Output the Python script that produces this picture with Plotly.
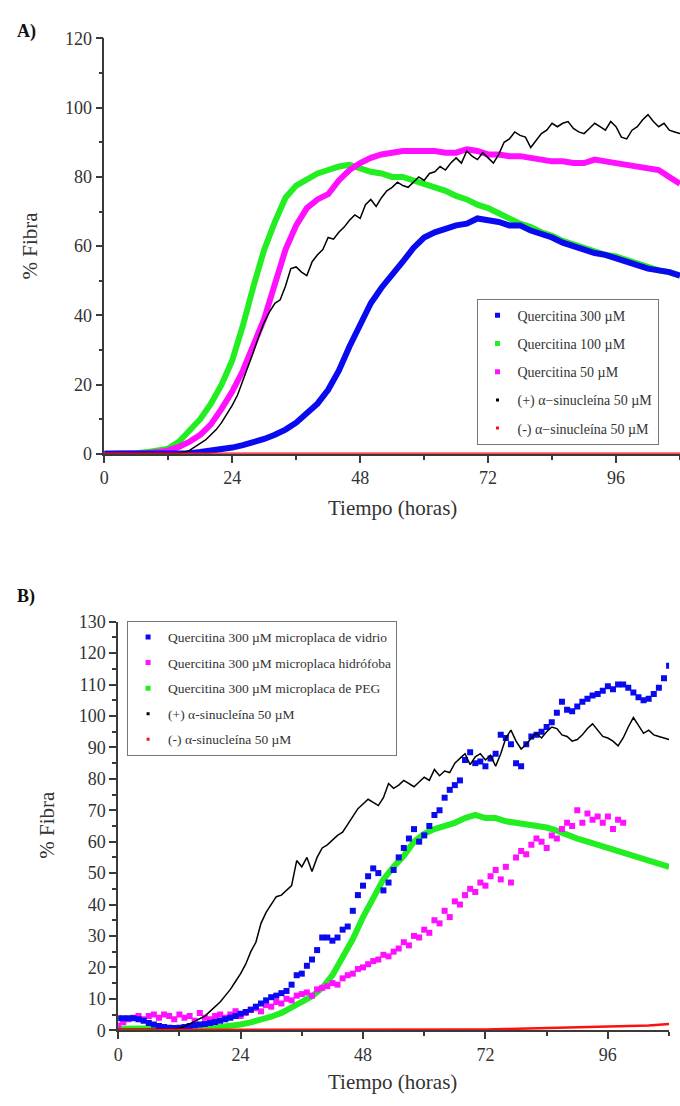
import plotly.graph_objects as go

# ---------------- Panel A data ----------------
tA2 = list(range(0, 109, 2))
tA1 = list(range(0, 109, 1))

q300_A = [0, 0, 0, 0, 0, 0, 0, 0, 0.2, 0.5, 0.8, 1.2, 1.8, 2.5, 3.3, 4.3, 5.5, 7, 9, 11.5,
          14.5, 18.5, 24, 31, 37.5, 43.5, 48, 51.5, 55.5, 59.5, 62.5, 64, 65, 66, 66.5, 68,
          67.5, 67, 66, 66, 64.5, 63.5, 62.5, 61, 60, 59, 58, 57.5, 56.5, 55.5, 54.5, 53.5,
          53, 52.5, 51.5]
q100_A = [0, 0, 0, 0.2, 0.5, 1, 1.5, 3.5, 7, 10, 14.5, 20, 27, 37, 48.5, 59, 67, 74, 77.5,
          79.5, 81, 82, 83, 83.5, 82.5, 81.5, 81, 80, 80, 79, 78, 77, 76, 74.5, 73.5, 72, 71,
          69.5, 68, 66.5, 65.5, 64, 63, 61.5, 60.5, 59.5, 58.5, 57.5, 57, 56, 55, 54, 53,
          52.5, 51.5]
q50_A = [0, 0, 0, 0, 0.2, 0.5, 1, 2, 3.5, 5.5, 8.5, 13, 18, 24, 31, 39, 49, 59, 66, 71,
         73.5, 75, 79, 82, 84, 85.5, 86.5, 87, 87.5, 87.5, 87.5, 87.5, 87, 87, 88, 87.5,
         86.5, 86.5, 86, 86, 85.5, 85, 84.5, 84.5, 84, 84, 85, 84.5, 84, 83.5, 83, 82.5,
         82, 80, 78]
pos_A = [0, 0, 0, 0, 0, 0, 0, 0, 0, 0, 0, 0, 0, 0, 0.2, 0.5, 1, 2, 3, 4,
         5.5, 7, 9, 11.5, 14, 17, 21, 25, 29.5, 34, 38, 41, 43.5, 44.5, 48.5, 53.5, 54, 52.5, 51.5, 55.5,
         57.5, 59, 62.5, 62, 64, 65.5, 67.5, 69, 68, 72, 73.5, 71.5, 74, 76, 77, 78.5, 77.5, 77, 78.5, 80,
         79, 81, 81.5, 83, 82, 84, 85.5, 84, 87.5, 86, 85, 87, 85.5, 84, 86.5, 90, 91, 93, 92, 91.5,
         88.5, 90.5, 92.5, 93.5, 95.5, 94.5, 95.5, 96, 94, 93, 92.5, 94, 95.5, 94.5, 93.5, 96, 94.5, 91.5, 91, 93.5,
         94.5, 96.5, 98, 96, 94.5, 95.5, 93.5, 93, 92.5]
negA_t = [0, 108]
neg_A = [0, 0]

# ---------------- Panel B data ----------------
tB1 = list(range(0, 109, 1))
tB2 = list(range(0, 109, 2))
tB_mag = list(range(0, 100, 1))
tB_red = [0, 20, 40, 60, 68, 72, 76, 80, 84, 88, 92, 96, 100, 104, 108]

vid_B = [3.8, 3.8, 3.8, 3.8, 3.5, 3, 2.3, 1.8, 1.3, 1, 0.8, 0.7, 0.8, 1, 1.3, 1.6, 1.8, 2, 2.3, 2.6,
         3, 3.5, 4, 4.5, 5.2, 5.8, 6.5, 7.5, 8.5, 9.5, 10.5, 11, 11.8, 12.5, 14.5, 17.5, 18, 20.5, 22.5, 25.5,
         29.5, 29.5, 28.5, 29.5, 32, 33, 38, 43, 46, 49, 51.5, 50, 44.5, 47, 51, 55, 58, 61, 64, 60,
         62, 65, 68.5, 70, 74, 76.5, 78, 79.5, 86, 88.5, 85, 85.5, 84, 86.5, 88, 94, 93, 91, 85, 84,
         91, 93.5, 94, 95, 96.5, 98, 101, 104.5, 102, 101.5, 103, 104.5, 105.5, 106.5, 107, 108, 109.5, 108.5, 110, 110,
         109, 107.5, 106, 105, 105.5, 107, 109, 112, 116]
hid_B = [1.5, 2.5, 3.5, 4, 4.5, 3.5, 4.5, 5, 4, 5, 4.5, 3.5, 5, 4, 4.5, 3, 5.5, 4, 3.5, 4.5,
         5, 4, 5, 6, 4.5, 5.5, 6.5, 7, 6, 8, 7.5, 9, 8.5, 10, 9.5, 11, 11.5, 12, 11, 13,
         13.5, 14, 15, 14.5, 16.5, 17.5, 18, 19.5, 20, 21, 22, 22.5, 24, 23.5, 25, 26, 28, 27, 30, 29.5,
         32, 31, 35, 34, 38, 36, 41, 40, 43, 45, 44, 47, 46, 49, 51, 48, 52, 47, 55, 57,
         56, 59, 61, 60, 58, 62, 61, 64, 66, 65, 70, 66, 69, 67, 68, 66, 68, 64, 67, 66]
peg_B = [0.5, 0.5, 0.5, 0.5, 0.5, 0.5, 0.5, 0.5, 0.6, 0.8, 1, 1.3, 1.8, 2.5, 3.3, 4.3, 5.5, 7, 9, 10.8,
         13.5, 17.5, 23, 29, 36, 42, 48, 52, 55.5, 60, 62.5, 64, 65, 66, 67.5, 68.5, 67.5, 67.5, 66.5, 66,
         65.5, 65, 64.5, 63.5, 62, 61, 60, 59, 58, 57, 56, 55, 54, 53, 52]
pos_B = [0.3, 0.3, 0.3, 0.3, 0.3, 0.3, 0.3, 0.3, 0.3, 0.3, 0.3, 0.4, 0.7, 1.2, 2, 2.8, 3.8, 4.5, 6, 7.5,
         9, 11, 13, 15.5, 18, 21, 25, 28, 34, 37.5, 40, 42.5, 43, 44.5, 46, 54, 52, 55, 50.5, 55,
         58, 59, 60.5, 62, 63, 65.5, 68, 70.5, 72, 73.5, 72.5, 71.5, 74, 78.5, 77, 78, 79.5, 78.5, 77.5, 79,
         80.5, 79.5, 83, 81, 82.5, 82, 85, 86.5, 88, 84.5, 87, 88, 86, 87.5, 84, 88, 93, 95.5, 92, 89.5,
         91, 93, 94.5, 93, 95, 96.5, 96, 94, 93.5, 92, 92.5, 94, 96, 97.5, 95.5, 93.5, 93, 92, 90.5, 93,
         96.5, 99.5, 97, 94.5, 95.5, 94, 93.5, 93, 92.5]
neg_B = [0.1, 0.1, 0.1, 0.15, 0.2, 0.25, 0.35, 0.5, 0.6, 0.8, 1.0, 1.1, 1.3, 1.5, 2.0]

namesA = ["Quercitina 300 µM", "Quercitina 100 µM", "Quercitina 50 µM",
          "(+) α−sinucleína 50 µM", "(-) α−sinucleína 50 µM"]
namesB = ["Quercitina 300 µM microplaca de vidrio", "Quercitina 300 µM microplaca hidrófoba",
          "Quercitina 300 µM microplaca de PEG", "(+) α-sinucleína 50 µM", "(-) α-sinucleína 50 µM"]

BLUE = "#0a0af0"
GREEN = "#22ee22"
MAG = "#ff10ff"
BLACK = "#000000"
RED = "#ff1010"
FONT = "Liberation Serif"
AX = "#3a3a3a"

fig = go.Figure()

def line(x, y, color, width, xa, ya):
    fig.add_trace(go.Scatter(x=x, y=y, mode="lines", line=dict(color=color, width=width),
                             xaxis=xa, yaxis=ya, showlegend=False, hoverinfo="skip"))

def pts(x, y, color, size, xa, ya):
    fig.add_trace(go.Scatter(x=x, y=y, mode="markers",
                             marker=dict(color=color, size=size, symbol="square", line=dict(width=0)),
                             xaxis=xa, yaxis=ya, showlegend=False, hoverinfo="skip"))

def leg(name, color, size, legend, grp):
    fig.add_trace(go.Scatter(x=[None], y=[None], mode="markers", name=name,
                             marker=dict(color=color, size=size, symbol="square"),
                             legend=legend, legendgroup=grp, showlegend=True))

# Panel A
line(tA2, q100_A, GREEN, 6, "x", "y")
line(tA2, q50_A, MAG, 6, "x", "y")
line(tA2, q300_A, BLUE, 6, "x", "y")
line(tA1, pos_A, BLACK, 1.5, "x", "y")
line(negA_t, neg_A, RED, 2.5, "x", "y")
for n, c, s, g in zip(namesA, [BLUE, GREEN, MAG, BLACK, RED], [5, 5, 5, 3, 3], "abcde"):
    leg(n, c, s, "legend", "A" + g)

# Panel B
line(tB2, peg_B, GREEN, 6, "x2", "y2")
pts(tB_mag, hid_B, MAG, 6, "x2", "y2")
pts(tB1, vid_B, BLUE, 6, "x2", "y2")
line(tB1, pos_B, BLACK, 1.5, "x2", "y2")
line(tB_red, neg_B, RED, 2.5, "x2", "y2")
for n, c, s, g in zip(namesB, [BLUE, MAG, GREEN, BLACK, RED], [5, 5, 5, 3, 3], "abcde"):
    leg(n, c, s, "legend2", "B" + g)

W, H = 680, 1106
def py(p):
    return 1 - p / H

axis_common = dict(showline=True, linecolor=AX, linewidth=1.5, ticks="outside", ticklen=7,
                   tickwidth=1.5, tickcolor=AX, showgrid=False, zeroline=False,
                   tickfont=dict(family=FONT, size=18, color="#333333"), mirror=False)

fig.update_layout(
    width=W, height=H, margin=dict(l=0, r=0, t=0, b=0),
    paper_bgcolor="white", plot_bgcolor="white",
    xaxis=dict(domain=[100 / W, 1.0], range=[0, 108], anchor="y",
               tickvals=[0, 24, 48, 72, 96],
               minor=dict(tickvals=[12, 36, 60, 84, 108], ticks="outside", ticklen=4,
                          tickwidth=1.5, tickcolor=AX), **axis_common),
    yaxis=dict(domain=[py(452), py(29)], range=[0, 120], anchor="x", dtick=20,
               minor=dict(dtick=10, ticks="outside", ticklen=4, tickwidth=1.5, tickcolor=AX),
               **axis_common),
    xaxis2=dict(domain=[114 / W, 669 / W], range=[0, 108], anchor="y2",
                tickvals=[0, 24, 48, 72, 96],
                minor=dict(tickvals=[12, 36, 60, 84, 108], ticks="outside", ticklen=4,
                           tickwidth=1.5, tickcolor=AX), **axis_common),
    yaxis2=dict(domain=[py(1039), py(623)], range=[0, 130], anchor="x2", dtick=10,
                minor=dict(dtick=5, ticks="outside", ticklen=4, tickwidth=1.5, tickcolor=AX),
                **axis_common),
    legend=dict(x=475 / W, y=py(294), xanchor="left", yanchor="top",
                bordercolor="#777777", borderwidth=1, bgcolor="white",
                font=dict(family=FONT, size=14, color="#333333"),
                tracegroupgap=7, traceorder="grouped", itemwidth=30),
    legend2=dict(x=123 / W, y=py(622), xanchor="left", yanchor="top",
                 bordercolor="#777777", borderwidth=1, bgcolor="white",
                 font=dict(family=FONT, size=13.5, color="#333333"),
                 tracegroupgap=5, traceorder="grouped", itemwidth=30),
    annotations=[
        dict(text="<b>A)</b>", x=10 / W, y=py(22), xref="paper", yref="paper",
             xanchor="left", yanchor="middle", showarrow=False,
             font=dict(family=FONT, size=18, color="#111111")),
        dict(text="<b>B)</b>", x=10 / W, y=py(597), xref="paper", yref="paper",
             xanchor="left", yanchor="middle", showarrow=False,
             font=dict(family=FONT, size=18, color="#111111")),
        dict(text="% Fibra", x=25 / W, y=py(240), xref="paper", yref="paper",
             xanchor="center", yanchor="middle", showarrow=False, textangle=-90,
             font=dict(family=FONT, size=21, color="#333333")),
        dict(text="% Fibra", x=42 / W, y=py(830), xref="paper", yref="paper",
             xanchor="center", yanchor="middle", showarrow=False, textangle=-90,
             font=dict(family=FONT, size=21, color="#333333")),
        dict(text="Tiempo (horas)", x=390 / W, y=py(507), xref="paper", yref="paper",
             xanchor="center", yanchor="middle", showarrow=False,
             font=dict(family=FONT, size=21, color="#333333")),
        dict(text="Tiempo (horas)", x=390 / W, y=py(1092), xref="paper", yref="paper",
             xanchor="center", yanchor="middle", showarrow=False,
             font=dict(family=FONT, size=21, color="#333333")),
    ],
)

fig.write_html("out.html")
